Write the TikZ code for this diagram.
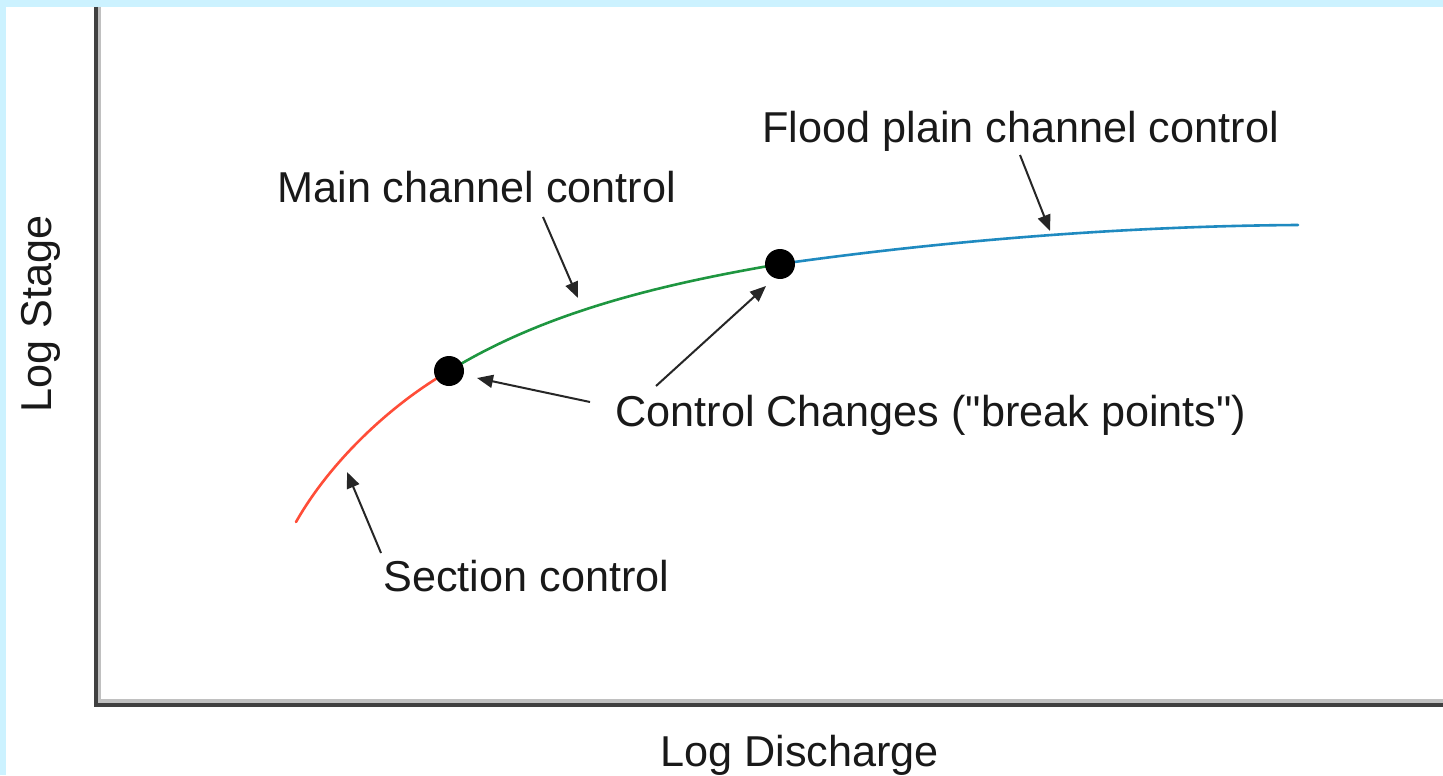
\documentclass[tikz,border=0pt]{standalone}
\usepackage{fontspec}
\setmainfont{Liberation Sans}
\newfontfamily\lblfont{Liberation Sans}[Ligatures=ResetAll]
\usetikzlibrary{arrows.meta}

\definecolor{bgcyan}{HTML}{CCF2FF}
\definecolor{axisdark}{HTML}{404040}
\definecolor{axisgray}{HTML}{C0C0C0}
\definecolor{sectred}{HTML}{FF4D38}
\definecolor{maingreen}{HTML}{1E9640}
\definecolor{floodblue}{HTML}{1F8AC0}

\begin{document}
\begin{tikzpicture}[
    x=0.5pt, y=-0.5pt,
    font=\lblfont\fontsize{21.6}{26}\selectfont,
    lbl/.style={anchor=base west, inner sep=0pt, text=black!90},
    axis/.style={line width=2pt, draw=axisdark},
    axshade/.style={line width=1.6pt, draw=axisgray},
    seg/.style={line width=1.3pt, line cap=round},
    dot/.style={circle, fill=black, inner sep=0pt, minimum size=15pt},
    arrow/.style={-{Triangle[length=8pt, width=6.5pt]}, line width=1pt, draw=black!85, fill=black}
]

% background and frame
\fill[bgcyan] (0,0) rectangle (1443,775);
\fill[white] (6,7) rectangle (1443,775);
\useasboundingbox (0,0) rectangle (1443,775);

% axes
\draw[axshade] (99.5,7) -- (99.5,701);
\draw[axshade] (98,701) -- (1443,701);
\draw[axis] (96,7) -- (96,705) -- (1443,705);

% rating curve
\coordinate (q0) at (296,522);
\coordinate (b1) at (449,371);
\coordinate (b2) at (780,264);
\coordinate (q3) at (1298,225);
\draw[seg, draw=sectred] (q0) .. controls (330,462) and (390,405) .. (b1);
\draw[seg, draw=maingreen] (b1) .. controls (548,310) and (669,283) .. (b2);
\draw[seg, draw=floodblue] (b2) .. controls (950,240) and (1130,226) .. (q3);
\node[dot] (brk1) at (b1) {};
\node[dot] (brk2) at (b2) {};

% labels
\node[lbl] (flood) at (762,143) {Flood plain channel control};
\node[lbl] (main) at (277,203) {Main channel control};
\node[lbl] (changes) at (615,426) {Control Changes ("break points")};
\node[lbl] (section) at (383,591) {Section control};
\node[lbl] (xlab) at (660,766) {Log Discharge};
\node[lbl, rotate=90] (ylab) at (51,413) {Log Stage};

% pointer ends
\coordinate (floodS) at (1020,155);
\coordinate (floodT) at (1050,231);
\coordinate (mainS) at (543,217);
\coordinate (mainT) at (578,298);
\coordinate (chgS1) at (590,402);
\coordinate (chgT1) at (477,378);
\coordinate (chgS2) at (656,386);
\coordinate (chgT2) at (766,286);
\coordinate (sectS) at (381,553);
\coordinate (sectT) at (347,472);

% arrows
\draw[arrow] (floodS) -- (floodT);
\draw[arrow] (mainS) -- (mainT);
\draw[arrow] (chgS1) -- (chgT1);
\draw[arrow] (chgS2) -- (chgT2);
\draw[arrow] (sectS) -- (sectT);

\end{tikzpicture}
\end{document}
